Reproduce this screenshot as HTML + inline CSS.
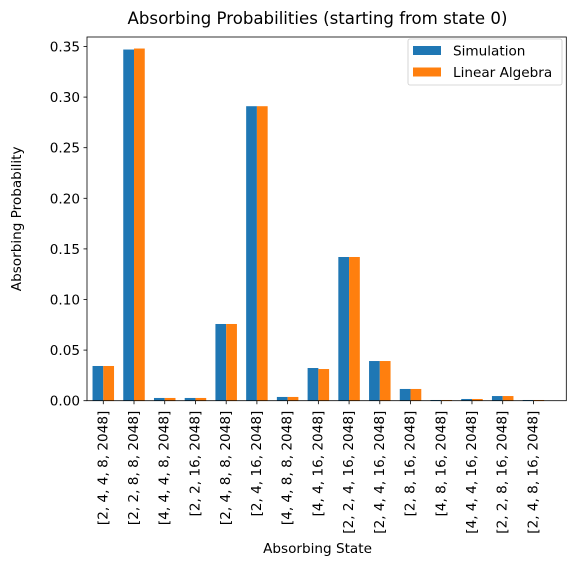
<!DOCTYPE html>
<html><head><meta charset="utf-8"><style>
body{margin:0;background:#fff;}
svg{display:block;font-family:"DejaVu Sans","Liberation Sans",sans-serif;}
</style></head><body>
<svg id="chart" width="576" height="566"></svg>
<script>
const categories=["[2, 4, 4, 8, 2048]","[2, 2, 8, 8, 2048]","[4, 4, 4, 8, 2048]","[2, 2, 16, 2048]","[2, 4, 8, 8, 2048]","[2, 4, 16, 2048]","[4, 4, 8, 8, 2048]","[4, 4, 16, 2048]","[2, 2, 4, 16, 2048]","[2, 4, 4, 16, 2048]","[2, 8, 16, 2048]","[4, 8, 16, 2048]","[4, 4, 4, 16, 2048]","[2, 2, 8, 16, 2048]","[2, 4, 8, 16, 2048]"];
const simulation=[0.0343,0.347,0.0027,0.0027,0.0758,0.291,0.0037,0.0323,0.142,0.0392,0.0116,0.0007,0.0017,0.0046,0.0007];
const linearAlgebra=[0.0343,0.348,0.0027,0.0027,0.0758,0.291,0.0037,0.0313,0.142,0.0392,0.0116,0.0007,0.0017,0.0046,0.0007];
const yTicks=[0,0.05,0.10,0.15,0.20,0.25,0.30,0.35];
const yTickLabels=["0.00","0.05","0.10","0.15","0.20","0.25","0.30","0.35"];

const NS="http://www.w3.org/2000/svg";
const svg=document.getElementById('chart');
const L=87,R=566.3,T=37,B=400.7;
const xMin=-0.53,xMax=15.07,yMax=(B-T)/1012;
const xs=v=>L+(v-xMin)/(xMax-xMin)*(R-L);
const ys=v=>B-v/yMax*(B-T);
const bw=0.35;
const FS=13.6;
function mk(tag,attrs,text){const e=document.createElementNS(NS,tag);for(const k in attrs)e.setAttribute(k,attrs[k]);if(text!==undefined)e.textContent=text;svg.appendChild(e);return e;}

categories.forEach((c,i)=>{
  const b1=mk('rect',{x:xs(i-bw),y:ys(simulation[i]),width:xs(bw)-xs(0),height:B-ys(simulation[i]),fill:'#1f77b4'});
  
  
  const b2=mk('rect',{x:xs(i),y:ys(linearAlgebra[i]),width:xs(bw)-xs(0),height:B-ys(linearAlgebra[i]),fill:'#ff7f0e'});
  
  
  const tk=mk('line',{x1:xs(i),x2:xs(i),y1:B,y2:B+3.5,stroke:'#000','stroke-width':0.8});
  
  
  const tl=mk('text',{x:0,y:0,'font-size':FS,'text-anchor':'end','dominant-baseline':'central',transform:`translate(${xs(i)},${B+10}) rotate(-90)`},c);
  
  
});
yTicks.forEach((v,i)=>{
  const tk=mk('line',{x1:L-3.5,x2:L,y1:ys(v),y2:ys(v),stroke:'#000','stroke-width':0.8});
  
  
  const tl=mk('text',{x:L-7,y:ys(v)+5,'font-size':FS,'text-anchor':'end'},yTickLabels[i]);
  
  
});
const frame=mk('rect',{x:L,y:T,width:R-L,height:B-T,fill:'none',stroke:'#000','stroke-width':0.8});


const title=mk('text',{x:317.5,y:24,'font-size':16.6,'text-anchor':'middle'},'Absorbing Probabilities (starting from state 0)');


const xl=mk('text',{x:317.5,y:553,'font-size':FS,'text-anchor':'middle'},'Absorbing State');


const yl=mk('text',{x:0,y:0,'font-size':FS,'text-anchor':'middle',transform:`translate(21,${(T+B)/2}) rotate(-90)`},'Absorbing Probability');


const lg=mk('rect',{x:408,y:39,width:154,height:46,fill:'#fff',stroke:'#ccc','stroke-width':0.8,rx:2});


[['Simulation','#1f77b4',50.5],['Linear Algebra','#ff7f0e',72]].forEach(([n,c,y])=>{
  const s=mk('rect',{x:413,y:y-4.5,width:28,height:9,fill:c});
  
  
  const t=mk('text',{x:453,y:y+5,'font-size':FS},n);
  
  
});
</script>
</body></html>
